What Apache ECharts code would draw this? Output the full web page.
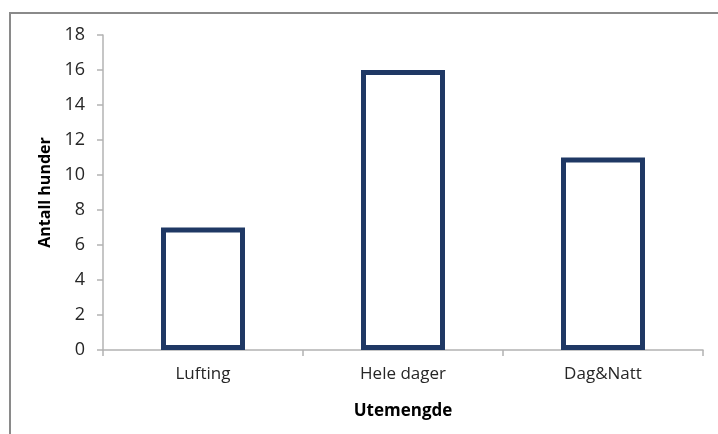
<!DOCTYPE html>
<html>
<head>
<meta charset="utf-8">
<script src="https://cdn.jsdelivr.net/npm/echarts@6/dist/echarts.min.js"></script>
<style>
  html, body { margin: 0; padding: 0; background: #fff; }
  #chart { width: 718px; height: 434px; }
</style>
</head>
<body>
<div id="chart"></div>
<script>
const categories = ['Lufting', 'Hele dager', 'Dag&Natt'];
const antallHunder = [7, 16, 11];
const yTicks = { min: 0, max: 18, step: 2 };

const font = '"Open Sans", "Noto Sans", sans-serif';
const chart = echarts.init(document.getElementById('chart'), null, { renderer: 'canvas' });

chart.setOption({
  animation: false,
  backgroundColor: '#ffffff',
  graphic: [{
    type: 'rect',
    shape: { x: 10, y: 13, width: 900, height: 600 },
    style: { fill: 'none', stroke: '#8a8a8a', lineWidth: 2 },
    silent: true
  }],
  grid: { left: 103, right: 15, top: 35, bottom: 84, containLabel: false },
  xAxis: {
    type: 'category',
    data: categories,
    name: 'Utemengde',
    nameLocation: 'middle',
    nameGap: 53,
    nameTextStyle: { fontFamily: font, fontSize: 17, fontWeight: 'bold', color: '#000' },
    axisLine: { lineStyle: { color: '#b3b3b3', width: 1.5 } },
    axisTick: { show: true, length: 6, alignWithLabel: false, lineStyle: { color: '#b3b3b3', width: 1.5 } },
    axisLabel: { fontFamily: font, fontSize: 17, color: '#262626', margin: 16 }
  },
  yAxis: {
    type: 'value',
    min: yTicks.min,
    max: yTicks.max,
    interval: yTicks.step,
    name: 'Antall hunder',
    nameLocation: 'middle',
    nameGap: 49,
    nameTextStyle: { fontFamily: font, fontSize: 16, fontWeight: 'bold', color: '#000' },
    axisLine: { show: true, lineStyle: { color: '#b3b3b3', width: 1.5 } },
    axisTick: { show: true, length: 6, lineStyle: { color: '#b3b3b3', width: 1.5 } },
    splitLine: { show: false },
    axisLabel: { fontFamily: font, fontSize: 18, color: '#262626', margin: 18 }
  },
  series: [{
    type: 'bar',
    data: antallHunder,
    barWidth: '42%',
    itemStyle: { color: '#ffffff', borderColor: '#1f3864', borderWidth: 5 }
  }]
});
</script>
</body>
</html>
